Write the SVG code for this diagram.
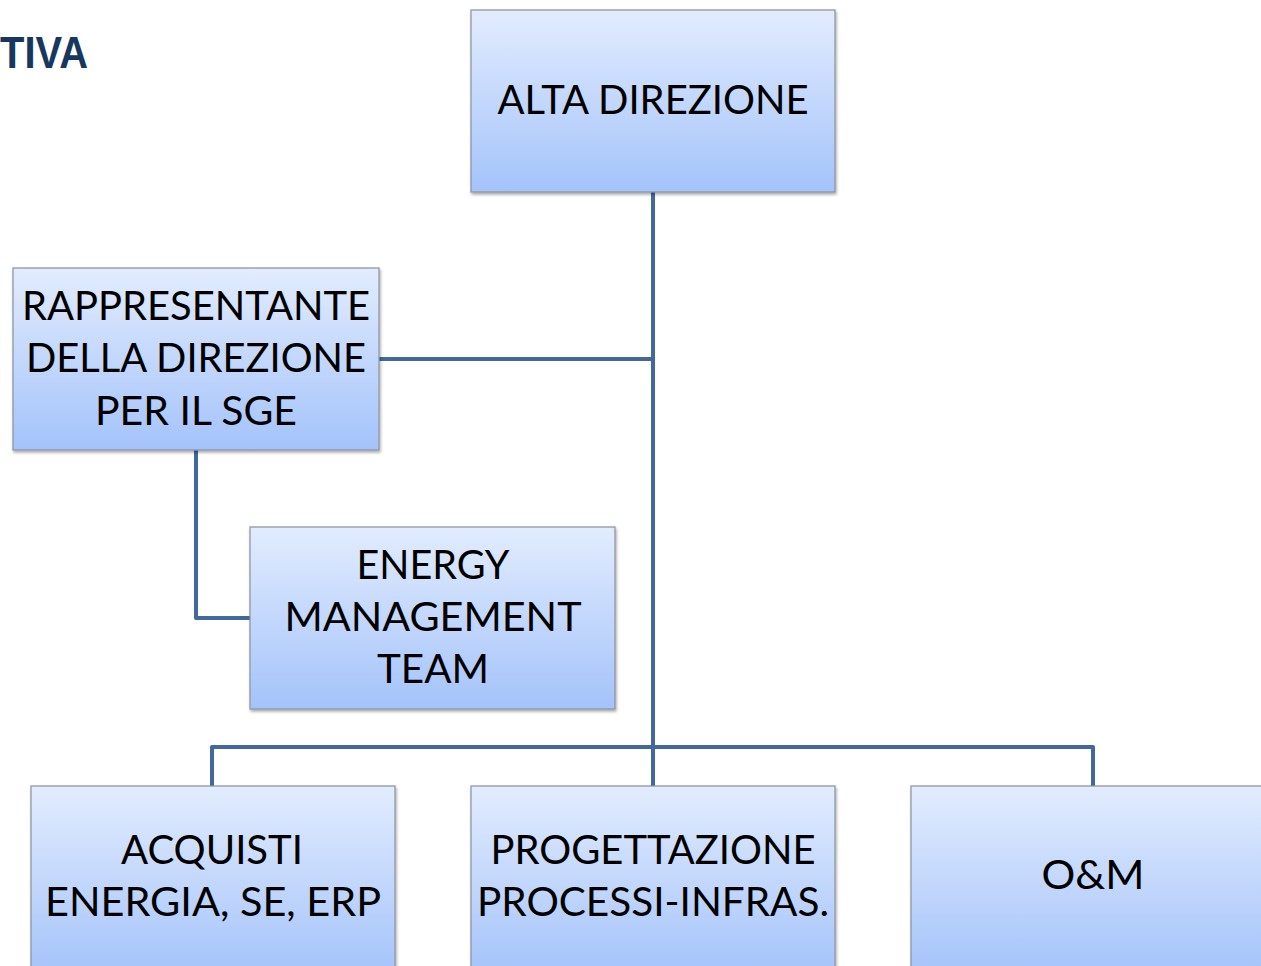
<svg xmlns="http://www.w3.org/2000/svg" width="1261" height="966" viewBox="0 0 1261 966">
<defs>
<linearGradient id="g" x1="0" y1="0" x2="0" y2="1">
<stop offset="0" stop-color="#E2ECFE"/>
<stop offset="1" stop-color="#A4C3FA"/>
</linearGradient>
<filter id="sh" x="-5%" y="-5%" width="115%" height="115%">
<feDropShadow dx="1" dy="2" stdDeviation="1.5" flood-color="#000" flood-opacity="0.35"/>
</filter>
</defs>
<style>
.box{fill:url(#g);stroke:#8A929E;stroke-width:1.2;filter:url(#sh)}
.t{font-family:Lato,"Open Sans",sans-serif;font-size:41px;fill:#000;text-anchor:middle}
.c{fill:none;stroke:#41699B;stroke-width:4;stroke-linejoin:round}
.title{font-family:"Liberation Sans",Arial,sans-serif;font-weight:bold;font-size:44px;fill:#17375E;text-anchor:end}
</style>
<rect width="1261" height="966" fill="#fff"/>
<text class="title" x="88" y="68" textLength="88" lengthAdjust="spacingAndGlyphs">TIVA</text>
<g id="connectors">
<path class="c" d="M653 192 V786"/>
<path class="c" d="M379 359 H653"/>
<path class="c" d="M196 450 V618 H250"/>
<path class="c" d="M212 786 V747 H1093 V786"/>
</g>
<g id="alta">
<rect class="box" x="471" y="10" width="364" height="182"/>
<text class="t" x="653" y="114" textLength="311" lengthAdjust="spacingAndGlyphs">ALTA DIREZIONE</text>
</g>
<g id="rappresentante">
<rect class="box" x="13" y="268" width="366" height="182"/>
<text class="t" x="196" y="320" textLength="348" lengthAdjust="spacingAndGlyphs">RAPPRESENTANTE</text>
<text class="t" x="196" y="372" textLength="340" lengthAdjust="spacingAndGlyphs">DELLA DIREZIONE</text>
<text class="t" x="196" y="425" textLength="202" lengthAdjust="spacingAndGlyphs">PER IL SGE</text>
</g>
<g id="energy">
<rect class="box" x="250" y="527" width="365" height="182"/>
<text class="t" x="433" y="579" textLength="153" lengthAdjust="spacingAndGlyphs">ENERGY</text>
<text class="t" x="433" y="631" textLength="297" lengthAdjust="spacingAndGlyphs">MANAGEMENT</text>
<text class="t" x="433" y="683" textLength="112" lengthAdjust="spacingAndGlyphs">TEAM</text>
</g>
<g id="acquisti">
<rect class="box" x="31" y="786" width="364" height="190"/>
<text class="t" x="212" y="864" textLength="182" lengthAdjust="spacingAndGlyphs">ACQUISTI</text>
<text class="t" x="213" y="916" textLength="336" lengthAdjust="spacingAndGlyphs">ENERGIA, SE, ERP</text>
</g>
<g id="progettazione">
<rect class="box" x="471" y="786" width="364" height="190"/>
<text class="t" x="653" y="864" textLength="325" lengthAdjust="spacingAndGlyphs">PROGETTAZIONE</text>
<text class="t" x="653" y="916" textLength="352" lengthAdjust="spacingAndGlyphs">PROCESSI-INFRAS.</text>
</g>
<g id="om">
<rect class="box" x="911" y="786" width="364" height="190"/>
<text class="t" x="1093" y="889" textLength="103" lengthAdjust="spacingAndGlyphs">O&amp;M</text>
</g>
</svg>
